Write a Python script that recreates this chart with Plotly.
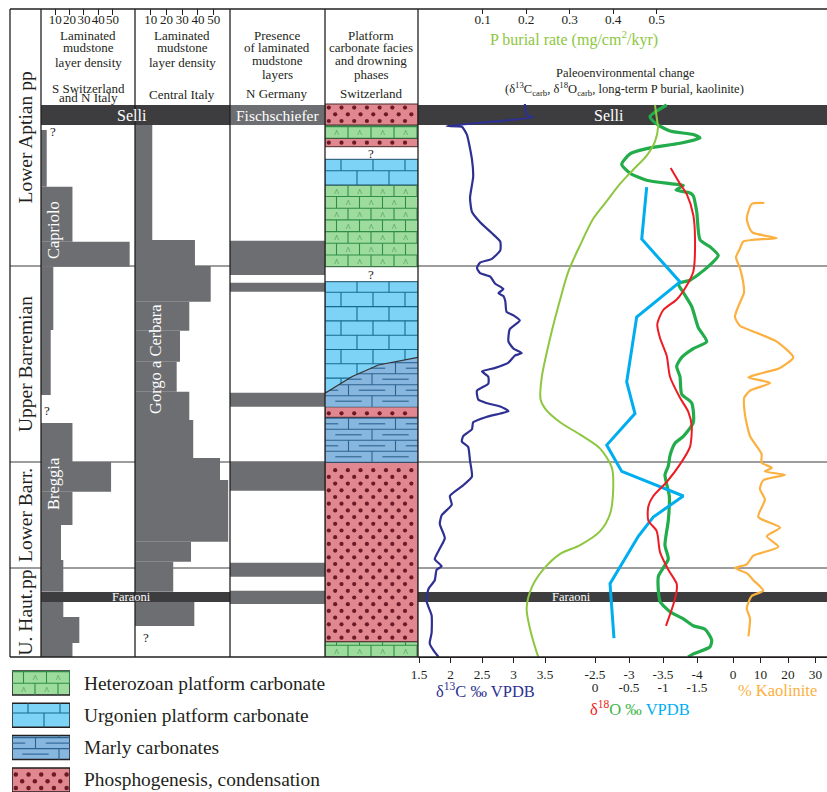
import numpy as np
import plotly.graph_objects as go

W, H = 827, 792
SERIF = "Liberation Serif"
INK = "#231f20"

# ======================= DATA =======================
# stratigraphic level (arbitrary units, 0 = base of the section)
stage_names = ["U. Haut.pp", "Lower Barr.", "Upper Barremian", "Lower Aptian pp"]
stage_base = [0, 89, 195, 391]
stage_top = [89, 195, 391, 648]
selli_base, selli_top = 532, 552
faraoni_base, faraoni_top = 55, 65

density_ticks = [10, 20, 30, 40, 50]

# laminated mudstone layer density - S Switzerland and N Italy (Capriolo, Breggia)
swi_base = [470.3, 415.3, 390.3, 327, 262, 195, 165.3, 132, 97, 65.3, 40, 14, 0]
swi_top = [527, 470.3, 415.3, 390.3, 327, 234, 195, 165.3, 132, 97, 55, 40, 14]
swi_density = [4.0, 22, 62, 8.6, 6.8, 22, 49, 22, 14, 15.6, 15.6, 26.8, 22]

# laminated mudstone layer density - Central Italy (Gorgo a Cerbara)
ita_base = [417, 391, 355.3, 326.3, 295.3, 265.3, 237, 199, 177, 115.3, 95.3, 65.3, 31]
ita_top = [532, 417, 391, 355.3, 326.3, 295.3, 265.3, 237, 199, 177, 115.3, 95.3, 55]
ita_density = [11.0, 38.1, 48.1, 34.5, 28.6, 26.5, 34.5, 37.0, 54.0, 59.2, 35.6, 24.3, 37.7]

# presence of laminated mudstone layers - N Germany
ger_base = [53, 80.3, 166.3, 250.3, 365.3, 382]
ger_top = [66.3, 94.3, 195.3, 264.3, 374.3, 416.3]

# platform carbonate facies - Switzerland
facies_base = [0, 15.3, 194.7, 239.7, 250.3, 390.3, 472, 510.3, 518.7, 532]
facies_top = [15.3, 194.7, 239.7, 250.3, 375.3, 472, 497.7, 518.7, 532, 553]
facies_kind = ["het", "pho", "mar", "pho", "urg", "het", "urg", "pho", "het", "pho"]
facies_unknown = [383, 504]
marly_wedge_x = [0, 0.287, 0.573, 1.0]
marly_wedge_top = [263.7, 280.3, 292.0, 299.7]

legend_kinds = ["het", "urg", "mar", "pho"]
legend_labels = ["Heterozoan platform carbonate", "Urgonien platform carbonate",
                 "Marly carbonates", "Phosphogenesis, condensation"]

# d13C carb (permil VPDB)
d13c_level = [553, 542, 539.7, 531, 530.2, 522.4, 497.9, 480.3, 459.3, 445.2, 434.7, 424.2, 415.4, 406.6,
              397.9, 394.4, 389.1, 383.8, 380.3, 373.3, 368, 363.8, 361, 355.8, 345.2, 341.7, 336.5, 327.7,
              315.4, 308.4, 303.8, 301.4, 294.4, 289.1, 285.6, 280.3, 273.3, 266.3, 257.5, 254, 250.5, 245.9,
              243.5, 240, 234.7, 227.7, 220.7, 215.4, 210.1, 196.1, 180.3, 171.6, 161, 152.2, 141.7, 133,
              118.9, 108.4, 97.9, 90.8, 87.3, 76.8, 68, 55.8, 41.7, 24.2, 13.7, 6.6, 0]
d13c_value = [3.18, 3.21, 3.31, 1.94, 2.18, 2.26, 2.34, 2.36, 2.31, 2.34, 2.47, 2.65, 2.79, 2.79,
              2.65, 2.47, 2.42, 2.47, 2.63, 2.71, 2.84, 2.76, 2.84, 2.87, 2.89, 3.00, 3.10, 2.94,
              2.92, 3.00, 3.13, 3.02, 2.92, 2.71, 2.50, 2.60, 2.60, 2.42, 2.44, 2.57, 2.79, 2.92,
              2.79, 2.57, 2.36, 2.34, 2.20, 2.18, 2.28, 2.31, 2.34, 2.20, 1.99, 2.02, 1.86, 1.83,
              1.91, 1.83, 1.75, 1.86, 1.78, 1.75, 1.65, 1.62, 1.70, 1.70, 1.67, 1.73, 1.81]

# long-term P burial rate (mg/cm2/kyr)
p_level = [552, 536.5, 529.5, 515.4, 501.4, 487.3, 473.3, 455.8, 438.2, 411.9, 385.6, 357.5, 319, 280.3,
           257.5, 248.7, 234.7, 222.4, 208.4, 189.1, 168, 143.5, 125.9, 111.9, 103.1, 87.3, 69.8, 48.7,
           27.7, 4.9, 0]
p_value = [0.496, 0.501, 0.503, 0.496, 0.477, 0.446, 0.416, 0.385, 0.354, 0.324, 0.297, 0.278, 0.255,
           0.236, 0.233, 0.243, 0.278, 0.324, 0.370, 0.397, 0.400, 0.393, 0.370, 0.324, 0.278, 0.239,
           0.213, 0.201, 0.209, 0.224, 0.228]

# d18O carb, green record (upper scale)
o18g_level = [552, 540.3, 533, 526, 522.4, 519, 513.7, 508.4, 503.1, 492.6, 483.8, 476.8, 473.3, 471.6,
              467, 464, 461, 445.2, 417.2, 410.2, 401.4, 389.1, 376.8, 373.3, 364.5, 350.5, 329.4, 315.4,
              308.4, 299.6, 290.8, 280.3, 262.8, 254, 234.7, 220.7, 213.7, 201.4, 190.8, 182.1, 161, 136.5,
              111.9, 97.9, 89.1, 80.3, 55.7, 45.2, 38.2, 31.2, 27.7, 17.1, 10.1, 3.1, 0]
o18g_value = [-3.554, -3.309, -3.407, -3.603, -3.946, -4.044, -3.750, -3.260, -3.015, -2.893, -3.015,
              -3.260, -3.603, -3.799, -3.691, -3.897, -3.946, -3.996, -4.044, -4.191, -4.313, -4.143,
              -3.897, -3.725, -3.799, -3.922, -4.019, -4.143, -3.946, -3.775, -3.701, -3.750, -3.775,
              -3.922, -3.946, -3.799, -3.676, -3.603, -3.578, -3.529, -3.593, -3.578, -3.529, -3.578,
              -3.504, -3.431, -3.456, -3.603, -3.799, -3.946, -4.118, -4.216, -4.191, -3.946, -3.868]

# d18O carb, red record (lower scale)
o18r_level = [489.1, 473.3, 462.8, 441.7, 417.2, 385.6, 371.6, 357.5, 347, 333, 319, 301.4, 280.3, 259.3,
              245.2, 231.2, 210.1, 192.6, 175, 161, 150.5, 136.5, 125.9, 104.9, 87.3, 73.3, 66.3, 52.2, 31.2]
o18r_value = [-1.113, -1.250, -1.349, -1.446, -1.471, -1.446, -1.349, -1.201, -1.004, -0.916, -0.956,
              -1.054, -1.103, -1.250, -1.372, -1.422, -1.397, -1.250, -1.054, -0.857, -0.784, -0.784,
              -0.907, -0.956, -1.078, -1.201, -1.201, -1.151, -1.044]

# d18O carb, blue record (lower scale)
o18b_level = [469.8, 417.9, 375.1, 340, 275.1, 243.5, 211.9, 185.6, 161, 140, 120.7, 73.3, 18.9]
o18b_value = [-0.760, -0.687, -1.250, -0.613, -0.466, -0.588, -0.172, -0.393, -1.299, -0.857, -0.637,
              -0.221, -0.279]

# kaolinite (%)
kao_level = [454, 453, 438.2, 427.7, 424.2, 418.9, 417.2, 415.4, 408.4, 399.6, 389.1, 375, 364.5, 350.5,
             340, 331.2, 324.2, 315.4, 299.6, 289.1, 283.8, 279.6, 274, 266.3, 259.3, 241.7, 220.7, 203.1,
             194.4, 189.1, 185.6, 182.1, 176.8, 168, 157.5, 140, 129.4, 120.7, 110.1, 101.4, 92.6, 89.1,
             83.8, 76.8, 66.3, 61, 48.7, 38.2, 20.7]
kao_value = [11.4, 6.8, 5.0, 6.2, 7.2, 15.9, 7.4, 3.7, 2.5, 1.1, 2.5, 3.7, 4.0, 1.9, 0.7, 2.5, 8.6, 15.9,
             21.9, 17.1, 10.4, 5.6, 13.5, 6.2, 4.1, 4.4, 6.2, 10.4, 10.4, 14.1, 11.6, 18.9, 11.0, 9.8, 11.6,
             9.2, 17.1, 12.3, 16.5, 7.4, 5.0, 0.7, 5.0, 7.4, 11.0, 6.8, 5.0, 6.2, 5.6]

c13_ticks = [1.5, 2, 2.5, 3, 3.5]
o18_upper_ticks = [-2.5, -3, -3.5, -4]
o18_lower_ticks = [0, -0.5, -1, -1.5]
kao_ticks = [0, 10, 20, 30]
p_ticks = [0.1, 0.2, 0.3, 0.4, 0.5]

# ======================= STYLE / LAYOUT =======================
GREY = "#6d6e71"
DARK = "#3d3d3f"
C13 = "#2e3192"
PCOL = "#8dc63f"
GREEN = "#22ac4b"
RED = "#ed1c24"
CYAN = "#00aeef"
ORANGE = "#fbb040"

STYLE = {
    "het": dict(fill="#9edc9d", ink="#2f8d48", edge="#2a5f36", row=11.7, brick=23),
    "urg": dict(fill="#7dd3f6", ink="#17688f", edge="#1d4d68", row=14.3, brick=32),
    "mar": dict(fill="#87b6de", ink="#2c6391", edge="#2a4c6c", row=11.0, brick=47),
    "pho": dict(fill="#e0878f", ink="#6b1a25", edge="#4a2a2c", dx=12.7, dy=6.7),
}

OFF = 0
EDGES = [10, 41, 135, 230, 325, 418]
RIGHT_PX = W + OFF
TOP_PX, BOT_PX = 9, 657


def fx(px):
    return (px - OFF) / W


def fy(py):
    return 1 - (py - OFF) / H


def lin_range(v1, p1, v2, p2, left, right):
    s = (v2 - v1) / (p2 - p1)
    return [v1 + (left - p1) * s, v1 + (right - p1) * s]


fig = go.Figure()


def interval_bar(base, top, value, xaxis, color, edge=None):
    centre = [(b + t) / 2 for b, t in zip(base, top)]
    thick = [t - b for b, t in zip(base, top)]
    return go.Bar(orientation="h", y=centre, x=value, width=thick, base=0, xaxis=xaxis, yaxis="y",
                  marker=dict(color=color, line=dict(width=0 if edge is None else 1,
                                                     color=edge if edge is not None else color)),
                  hoverinfo="skip")


fig.add_trace(interval_bar(swi_base, swi_top, swi_density, "x", GREY))
fig.add_trace(interval_bar(ita_base, ita_top, ita_density, "x2", GREY))
fig.add_trace(interval_bar(ger_base, ger_top, [1] * len(ger_base), "x3", GREY))
fig.add_trace(interval_bar(facies_base, facies_top, [1] * len(facies_base), "x4",
                           [STYLE[k]["fill"] for k in facies_kind], [STYLE[k]["edge"] for k in facies_kind]))

# legend swatches (legend axis: 1 unit = 1 px, measured up from the bottom of the page)
LEG_TOP, LEG_STEP, LEG_BOX = 121, 32.3, 24
leg_base = [LEG_TOP - i * LEG_STEP - LEG_BOX for i in range(len(legend_kinds))]
fig.add_trace(go.Bar(orientation="v", x=[0.5] * len(legend_kinds), width=[1] * len(legend_kinds),
                     base=leg_base, y=[LEG_BOX] * len(legend_kinds), xaxis="x10", yaxis="y2",
                     marker=dict(color=[STYLE[k]["fill"] for k in legend_kinds], line=dict(width=1.5, color=INK)),
                     hoverinfo="skip"))


def brick_decor(x0, x1, y0, y1, row_h, bw, ceil_x=None, ceil_y=None, dashes=False):
    lx, ly, cx, cy = [], [], [], []

    def top_at(x):
        if ceil_x is None:
            return y1
        return min(y1, float(np.interp(x, ceil_x, ceil_y)))

    def x_from(level):
        if ceil_x is None:
            return x0
        return max(x0, float(np.interp(level, ceil_y, ceil_x)))

    n = int(np.ceil((y1 - y0) / row_h - 1e-9))
    for k in range(n):
        a = y0 + k * row_h
        b = min(a + row_h, y1)
        if k > 0:
            xs = x_from(a)
            if xs < x1:
                lx += [xs, x1, None]
                ly += [a, a, None]
        off = (k % 2) * bw / 2
        edges = np.arange(x0 + off - bw, x1 + bw, bw)
        for e in edges:
            if x0 < e < x1:
                t = min(b, top_at(e))
                if t > a:
                    lx += [e, e, None]
                    ly += [a, t, None]
        m = (a + b) / 2
        for e in edges:
            c = e + bw / 2
            if dashes:
                d0, d1 = max(c - 0.28 * bw, x_from(m), x0), min(c + 0.28 * bw, x1)
                if d1 > d0 and b - a > row_h * 0.6:
                    lx += [d0, d1, None]
                    ly += [m, m, None]
            elif x0 + 0.04 * (x1 - x0) < c < x1 - 0.04 * (x1 - x0) and top_at(c) > m + 3 and b - a > row_h * 0.6:
                cx.append(c)
                cy.append(m)
    return lx, ly, cx, cy


def dot_lattice(x0, x1, y0, y1, dx, dy):
    xs, ys = [], []
    k = 0
    y = y0 + dy * 0.6
    while y < y1 - dy * 0.3:
        x = x0 + dx * 0.3 + (k % 2) * dx / 2
        while x < x1 - dx * 0.1:
            xs.append(x)
            ys.append(y)
            x += dx
        y += dy
        k += 1
    return xs, ys


def add_decor(kind, y0, y1, px_per_x, xaxis, yaxis, ceil_x=None, ceil_y=None, dot_size=4.2):
    st = STYLE[kind]
    if kind == "pho":
        xs, ys = dot_lattice(0, 1, y0, y1, st["dx"] / px_per_x, st["dy"])
        fig.add_trace(go.Scatter(x=xs, y=ys, mode="markers", xaxis=xaxis, yaxis=yaxis, hoverinfo="skip",
                                 marker=dict(size=dot_size, color=st["ink"], line=dict(width=0))))
        return
    lx, ly, cx, cy = brick_decor(0, 1, y0, y1, st["row"], st["brick"] / px_per_x, ceil_x, ceil_y,
                                 dashes=(kind == "mar"))
    fig.add_trace(go.Scatter(x=lx, y=ly, mode="lines", xaxis=xaxis, yaxis=yaxis, hoverinfo="skip",
                             line=dict(color=st["ink"], width=1.1)))
    if kind == "het" and cx:
        fig.add_trace(go.Scatter(x=cx, y=[v - 2.5 for v in cy], mode="text", text=["^"] * len(cx),
                                 xaxis=xaxis, yaxis=yaxis, hoverinfo="skip",
                                 textfont=dict(family=SERIF, size=10, color=st["ink"])))


COL4_PX = EDGES[5] - EDGES[4]
for kind, b, t in zip(facies_kind, facies_base, facies_top):
    add_decor(kind, b, t, COL4_PX, "x4", "y")

# marly carbonate wedge at the base of the Urgonien unit
wedge_base = facies_base[facies_kind.index("urg")]
fig.add_trace(go.Scatter(x=[0] + marly_wedge_x + [1, 0], y=[wedge_base] + marly_wedge_top + [wedge_base, wedge_base],
                         fill="toself", fillcolor=STYLE["mar"]["fill"], mode="lines", line=dict(width=0),
                         xaxis="x4", yaxis="y", hoverinfo="skip"))
add_decor("mar", wedge_base, max(marly_wedge_top), COL4_PX, "x4", "y", marly_wedge_x, marly_wedge_top)
fig.add_trace(go.Scatter(x=marly_wedge_x, y=marly_wedge_top, mode="lines", line=dict(color="#333333", width=1.2),
                         xaxis="x4", yaxis="y", hoverinfo="skip"))

LEG_PX = 58
for i, kind in enumerate(legend_kinds):
    add_decor(kind, leg_base[i], leg_base[i] + LEG_BOX, LEG_PX, "x10", "y2", dot_size=4.5)

# curves
fig.add_trace(go.Scatter(x=p_value, y=p_level, mode="lines", xaxis="x9", yaxis="y", hoverinfo="skip",
                         line=dict(color=PCOL, width=2, shape="spline", smoothing=0.8)))
fig.add_trace(go.Scatter(x=d13c_value, y=d13c_level, mode="lines", xaxis="x5", yaxis="y", hoverinfo="skip",
                         line=dict(color=C13, width=2.2, shape="spline", smoothing=0.5)))
fig.add_trace(go.Scatter(x=o18b_value, y=o18b_level, mode="lines", xaxis="x7", yaxis="y", hoverinfo="skip",
                         line=dict(color=CYAN, width=3)))
fig.add_trace(go.Scatter(x=o18r_value, y=o18r_level, mode="lines", xaxis="x7", yaxis="y", hoverinfo="skip",
                         line=dict(color=RED, width=2, shape="spline", smoothing=0.7)))
fig.add_trace(go.Scatter(x=o18g_value, y=o18g_level, mode="lines", xaxis="x6", yaxis="y", hoverinfo="skip",
                         line=dict(color=GREEN, width=3.2, shape="spline", smoothing=0.6)))
fig.add_trace(go.Scatter(x=kao_value, y=kao_level, mode="lines", xaxis="x8", yaxis="y", hoverinfo="skip",
                         line=dict(color=ORANGE, width=2.2, shape="spline", smoothing=0.6)))

# ---------------- axes ----------------
tickfont = dict(family=SERIF, size=13.3, color=INK)
ydom = [fy(BOT_PX), fy(TOP_PX)]


def hidden_x(px0, px1, rng, anchor="y"):
    return dict(domain=[fx(px0), fx(px1)], range=rng, anchor=anchor, visible=False, fixedrange=True)


def density_axis(px0, px1, rng):
    return dict(domain=[fx(px0), fx(px1)], range=rng, anchor="y", side="top", ticks="inside", ticklen=6,
                tickwidth=1, tickcolor=INK, tickvals=density_ticks, ticktext=[str(v) for v in density_ticks],
                ticklabelposition="inside", tickangle=0, tickfont=dict(family=SERIF, size=13, color=INK),
                showline=False, showgrid=False, zeroline=False, fixedrange=True, automargin=False)


def right_axis(rng, vals, text, overlay=True, side="bottom", ticks="outside", standoff=None, showline=False):
    d = dict(range=rng, anchor="y", side=side, ticks=ticks, ticklen=5, tickwidth=1, tickcolor=INK,
             tickvals=vals, ticktext=text, tickfont=tickfont, tickangle=0, showgrid=False, zeroline=False,
             showline=showline, linecolor=INK, linewidth=1.3, fixedrange=True, automargin=False)
    if overlay:
        d["overlaying"] = "x5"
    else:
        d["domain"] = [fx(EDGES[5]), 1]
    if standoff is not None:
        d["ticklabelstandoff"] = standoff
    if side == "top":
        d["ticklabelposition"] = "inside"
    return d


layout_axes = dict(
    xaxis=density_axis(41, 135, lin_range(10, 55.3, 50, 112.5, 41, 135)),
    xaxis2=density_axis(135, 230, lin_range(10, 150.7, 50, 213.7, 135, 230)),
    xaxis3=hidden_x(230, 325, [0, 1]),
    xaxis4=hidden_x(325, 418, [0, 1]),
    xaxis5=right_axis(lin_range(1.5, 419, 3.5, 545, 418, RIGHT_PX), c13_ticks, [str(v) for v in c13_ticks],
                      overlay=False, showline=True),
    xaxis6=right_axis(lin_range(-2.5, 595, -4, 697, 418, RIGHT_PX), o18_upper_ticks,
                      ["-2.5", "-3", "-3.5", "-4"]),
    xaxis7=right_axis(lin_range(0, 595, -1.5, 697, 418, RIGHT_PX), o18_lower_ticks,
                      ["0", "-0.5", "-1", "-1.5"], ticks="", standoff=21),
    xaxis8=right_axis(lin_range(0, 733, 30, 815.5, 418, RIGHT_PX), kao_ticks, [str(v) for v in kao_ticks]),
    xaxis9=right_axis(lin_range(0.1, 482.7, 0.5, 656.7, 418, RIGHT_PX), p_ticks, [str(v) for v in p_ticks],
                      side="top", ticks="inside"),
    xaxis10=hidden_x(12, 70, [0, 1], anchor="y2"),
    yaxis=dict(domain=ydom, range=[0, stage_top[-1]], visible=False, fixedrange=True),
    yaxis2=dict(domain=[0, fy(664)], range=[0, fy(664) * H], anchor="x10", visible=False, fixedrange=True),
)

# ---------------- shapes ----------------
shapes = []
for b in stage_base[1:]:
    shapes.append(dict(type="line", xref="paper", yref="y", x0=fx(EDGES[0]), x1=1, y0=b, y1=b,
                       line=dict(color="#3a3a3a", width=1), layer="below"))
for (lo, hi) in [(selli_base, selli_top), (faraoni_base, faraoni_top)]:
    for (p0, p1) in [(EDGES[1], EDGES[3]), (EDGES[5], RIGHT_PX)]:
        shapes.append(dict(type="rect", xref="paper", yref="y", x0=fx(p0), x1=fx(p1), y0=lo, y1=hi,
                           fillcolor=DARK, line=dict(width=0), layer="below"))
shapes.append(dict(type="rect", xref="paper", yref="y", x0=fx(EDGES[3]), x1=fx(EDGES[4]), y0=selli_base,
                   y1=selli_top, fillcolor=GREY, line=dict(width=0), layer="below"))
frame = dict(color=INK, width=1.3)
for py in (TOP_PX, BOT_PX):
    shapes.append(dict(type="line", xref="paper", yref="paper", x0=fx(EDGES[0]), x1=1, y0=fy(py), y1=fy(py),
                       line=frame, layer="above"))
for px in EDGES:
    shapes.append(dict(type="line", xref="paper", yref="paper", x0=fx(px), x1=fx(px), y0=fy(BOT_PX),
                       y1=fy(TOP_PX), line=frame, layer="above"))

# ---------------- text ----------------
ann = []


def text_px(t, px, py, size=13, color=INK, angle=0, xanchor="center"):
    ann.append(dict(text=t, x=fx(px), y=fy(py), xref="paper", yref="paper", showarrow=False,
                    textangle=angle, xanchor=xanchor, yanchor="middle",
                    font=dict(family=SERIF, size=size, color=color)))


def text_lv(t, px, level, size=13, color=INK, angle=0, yref="y", xanchor="center"):
    ann.append(dict(text=t, x=fx(px), y=level, xref="paper", yref=yref, showarrow=False,
                    textangle=angle, xanchor=xanchor, yanchor="middle",
                    font=dict(family=SERIF, size=size, color=color)))


for cx in (88, 182):
    for t, py in [("Laminated", 35), ("mudstone", 48), ("layer density", 62)]:
        text_px(t, cx, py)
text_px("S Switzerland", 88, 88)
text_px("and N Italy", 88, 98)
text_px("Central Italy", 182, 94)
for t, py in [("Presence", 35), ("of laminated", 48), ("mudstone", 61), ("layers", 74), ("N Germany", 93)]:
    text_px(t, 277, py)
for t, py in [("Platform", 35), ("carbonate facies", 48), ("and drowning", 61), ("phases", 74),
              ("Switzerland", 93)]:
    text_px(t, 371, py)

text_px("P burial rate (mg/cm<sup>2</sup>/kyr)", 574, 39, size=16, color=PCOL)
text_px("Paleoenvironmental change", 625, 73, size=12.5)
text_px("(δ<sup>13</sup>C<sub>carb</sub>, δ<sup>18</sup>O<sub>carb</sub>, long-term P burial, kaolinite)",
        624, 89, size=12.5)

for name, b, t in zip(stage_names, stage_base, stage_top):
    text_lv(name, 25, (b + t) / 2, size=19.5, angle=-90)

mid_selli = (selli_base + selli_top) / 2
mid_far = (faraoni_base + faraoni_top) / 2
text_lv("Selli", 132, mid_selli, size=16, color="white")
text_lv("Selli", 609, mid_selli, size=16, color="white")
text_lv("Fischschiefer", 277, mid_selli, size=15.5, color="white")
text_lv("Faraoni", 131, mid_far, size=12.5, color="white")
text_lv("Faraoni", 571, mid_far, size=12.5, color="white")

text_lv("Capriolo", 53, 427, size=16.5, color="white", angle=-90)
text_lv("Breggia", 53, 173, size=16.5, color="white", angle=-90)
text_lv("Gorgo a Cerbara", 155, 298, size=16.5, color="white", angle=-90)

text_lv("?", 53, 526, size=13)
text_lv("?", 47, 247, size=13)
text_lv("?", 146, 20, size=13)
for lv in facies_unknown:
    text_lv("?", 371, lv, size=13)

text_px("δ<sup>13</sup>C ‰ VPDB", 485, 690, size=16.5, color=C13)
text_px("% Kaolinite", 777, 690, size=16.5, color=ORANGE)
text_px("<span style='color:%s'>δ<sup>18</sup></span><span style='color:%s'>O ‰ </span>"
        "<span style='color:%s'>VPDB</span>" % (RED, "#3cb54a", CYAN), 640, 708, size=16.5)

for i, lab in enumerate(legend_labels):
    text_lv(lab, 82, leg_base[i] + LEG_BOX / 2, size=19.4, yref="y2", xanchor="left")

fig.update_layout(width=W, height=H, margin=dict(l=0, r=0, t=0, b=0), paper_bgcolor="white",
                  plot_bgcolor="rgba(0,0,0,0)", barmode="overlay", showlegend=False, hovermode=False,
                  shapes=shapes, annotations=ann, **layout_axes)

fig.write_html("out.html", config={"displayModeBar": False, "staticPlot": True},
               post_script="document.body.style.margin='0';document.body.style.overflow='hidden';")
